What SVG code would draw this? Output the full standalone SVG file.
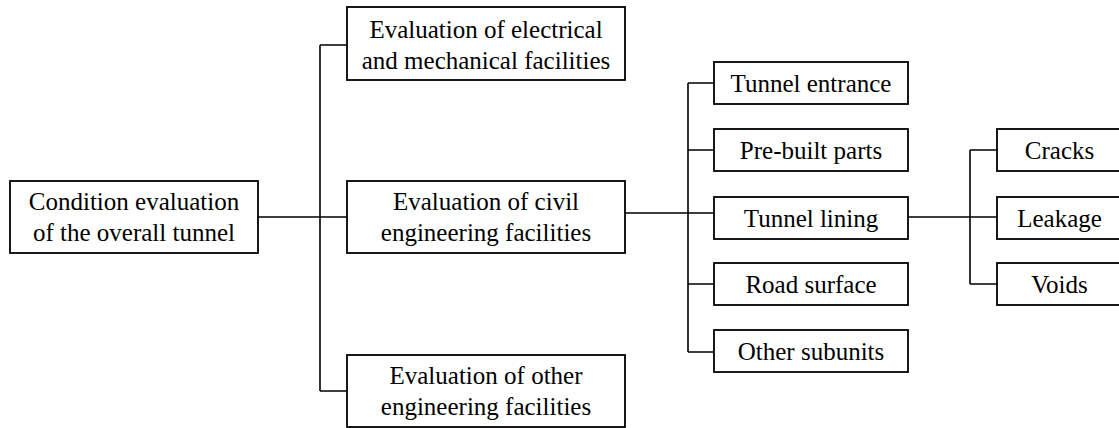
<svg xmlns="http://www.w3.org/2000/svg" width="1119" height="428" viewBox="0 0 1119 428" font-family="Liberation Serif, DejaVu Serif, serif">
  <style>
    .box { fill: #ffffff; stroke: #000000; stroke-width: 1.8; }
    .lbl { font-size: 25px; fill: #000000; text-anchor: middle; }
    .wire { fill: none; stroke: #000000; stroke-width: 1.6; }
  </style>
  <rect width="1119" height="428" fill="#ffffff"/>

  <!-- connectors -->
  <g id="connectors">
    <path class="wire" d="M258 217H320M320 45V391M320 45H347M320 217H347M320 391H347"/>
    <path class="wire" d="M625 213H688M688 83V352M688 83H714M688 150H714M688 213H714M688 284H714M688 352H714"/>
    <path class="wire" d="M908 217H970M970 150V284M970 150H997M970 217H997M970 284H997"/>
  </g>

  <!-- level 0 -->
  <g id="overall">
    <rect class="box" x="10" y="181" width="248" height="72"/>
    <text class="lbl" x="134" y="210">Condition evaluation</text>
    <text class="lbl" x="134" y="241">of the overall tunnel</text>
  </g>

  <!-- level 1 -->
  <g id="electrical">
    <rect class="box" x="347" y="7" width="278" height="73"/>
    <text class="lbl" x="486" y="38">Evaluation of electrical</text>
    <text class="lbl" x="486" y="69">and mechanical facilities</text>
  </g>
  <g id="civil">
    <rect class="box" x="347" y="181" width="278" height="72"/>
    <text class="lbl" x="486" y="210">Evaluation of civil</text>
    <text class="lbl" x="486" y="241">engineering facilities</text>
  </g>
  <g id="other-facilities">
    <rect class="box" x="347" y="355" width="278" height="72"/>
    <text class="lbl" x="486" y="384">Evaluation of other</text>
    <text class="lbl" x="486" y="415">engineering facilities</text>
  </g>

  <!-- level 2 -->
  <g id="entrance">
    <rect class="box" x="714" y="62" width="194" height="42"/>
    <text class="lbl" x="811" y="92">Tunnel entrance</text>
  </g>
  <g id="prebuilt">
    <rect class="box" x="714" y="129" width="194" height="42"/>
    <text class="lbl" x="811" y="159">Pre-built parts</text>
  </g>
  <g id="lining">
    <rect class="box" x="714" y="197" width="194" height="42"/>
    <text class="lbl" x="811" y="227">Tunnel lining</text>
  </g>
  <g id="road">
    <rect class="box" x="714" y="263" width="194" height="42"/>
    <text class="lbl" x="811" y="293">Road surface</text>
  </g>
  <g id="subunits">
    <rect class="box" x="714" y="330" width="194" height="42"/>
    <text class="lbl" x="811" y="360">Other subunits</text>
  </g>

  <!-- level 3 -->
  <g id="cracks">
    <rect class="box" x="997" y="129" width="125" height="42"/>
    <text class="lbl" x="1059.5" y="159">Cracks</text>
  </g>
  <g id="leakage">
    <rect class="box" x="997" y="197" width="125" height="42"/>
    <text class="lbl" x="1059.5" y="227">Leakage</text>
  </g>
  <g id="voids">
    <rect class="box" x="997" y="263" width="125" height="42"/>
    <text class="lbl" x="1059.5" y="293">Voids</text>
  </g>
</svg>
